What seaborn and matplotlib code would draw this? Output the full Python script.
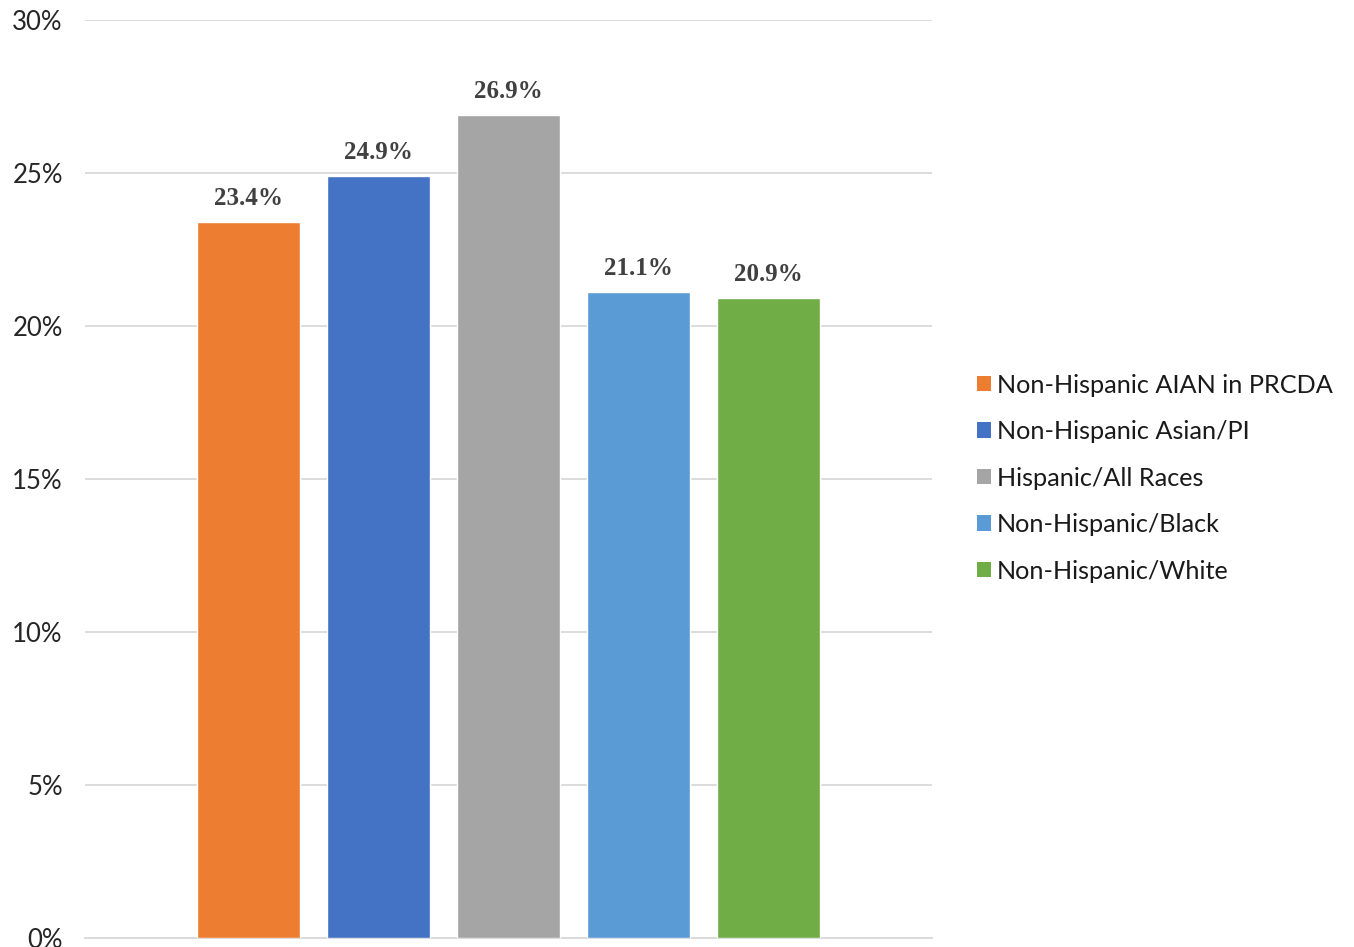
import pandas as pd
import seaborn as sns
import matplotlib.pyplot as plt
from matplotlib.patches import Patch

# data
groups = ["Non-Hispanic AIAN in PRCDA", "Non-Hispanic Asian/PI", "Hispanic/All Races",
          "Non-Hispanic/Black", "Non-Hispanic/White"]
values = [23.4, 24.9, 26.9, 21.1, 20.9]
colors = ["#ED7D31", "#4472C4", "#A5A5A5", "#5B9BD5", "#70AD47"]
y_ticks = [0, 5, 10, 15, 20, 25, 30]

df = pd.DataFrame({"group": groups, "value": values})

sns.set_style("white")
plt.rcParams["font.family"] = ["Lato", "DejaVu Sans"]

fig = plt.figure(figsize=(13.54, 9.47), dpi=100)
ax = fig.add_axes([0.0628, 0.0095, 0.6256, 0.9694])

sns.barplot(data=df, x="group", y="value", hue="group", palette=colors,
            saturation=1, width=0.79, dodge=False, legend=False, ax=ax, zorder=3)

ax.set_ylim(0, 30)
ax.set_xlim(-1.26, 5.26)
ax.set_yticks(y_ticks)
ax.set_yticklabels([f"{t}%" for t in y_ticks], fontsize=18.5, color="#262626")
ax.set_xticks([])
ax.set_xlabel("")
ax.set_ylabel("")
ax.tick_params(axis="y", length=0, pad=16)
ax.grid(axis="y", color="#d9d9d9", linewidth=1.3, zorder=0)
for s in ["top", "right", "left"]:
    ax.spines[s].set_visible(False)
ax.spines["bottom"].set_color("#d9d9d9")
ax.spines["bottom"].set_linewidth(1.3)

# value labels
for i, v in enumerate(values):
    ax.text(i, v + 0.4, f"{v}%", ha="center", va="bottom", fontsize=18,
            fontweight="bold", color="#404040", family="Liberation Serif")

handles = [Patch(facecolor=c, edgecolor="none") for c in colors]
fig.legend(handles, groups, loc="center left", bbox_to_anchor=(0.7216, 0.4952),
           frameon=False, fontsize=18.2, handlelength=0.55, handleheight=0.55,
           handletextpad=0.22, labelspacing=0.93, borderpad=0, borderaxespad=0,
           labelcolor="#1a1a1a")

fig.savefig("out.png", dpi=100)
